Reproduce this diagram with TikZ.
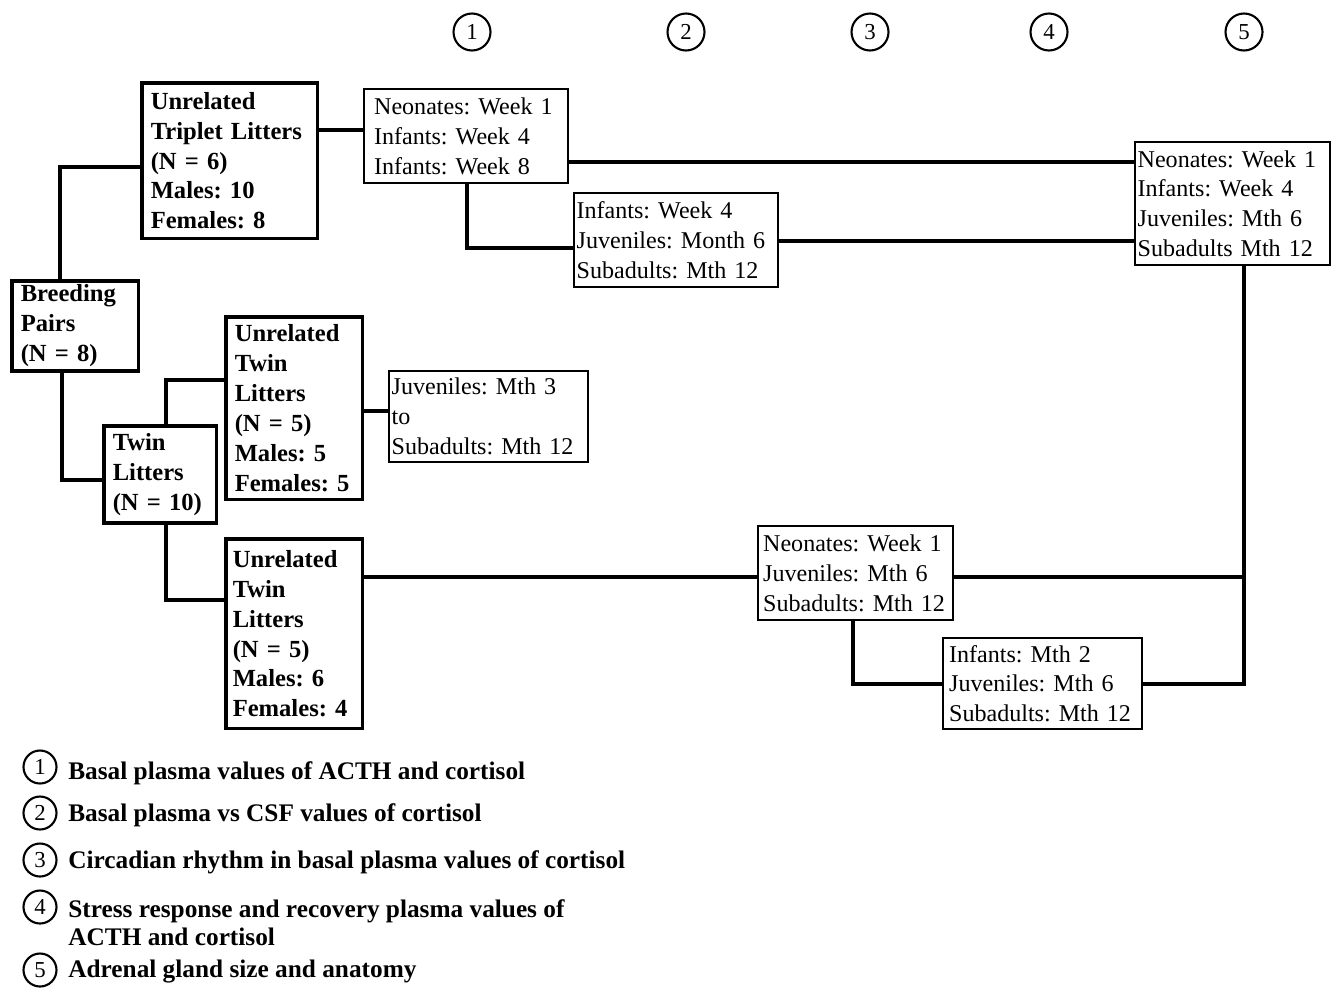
\documentclass[tikz,border=0pt]{standalone}
\usepackage{fontspec}
\setmainfont{Liberation Serif}
\usetikzlibrary{positioning}
\frenchspacing
\tikzstyle{conn} = [line width=2pt]
\tikzstyle{groupbox} = [draw, line width=2pt, anchor=north west, align=left, inner xsep=0.18cm, inner ysep=0pt, font=\fontsize{14}{17}\selectfont\bfseries]
\tikzstyle{agebox} = [draw, line width=1.3pt, anchor=north west, align=left, inner xsep=0.05cm, inner ysep=0pt, font=\fontsize{13.7}{17}\selectfont]
\tikzstyle{num} = [draw, circle, line width=1.2pt, minimum size=0.74cm, inner sep=0pt, font=\fontsize{13}{13}\selectfont]
\tikzstyle{legend} = [anchor=west, align=left, inner sep=0pt, font=\fontsize{14.4}{16}\selectfont\bfseries]

\begin{document}
\begin{tikzpicture}[x=0.02cm, y=-0.02cm]
    \useasboundingbox (0,0) rectangle (1331,988);

    % Measurement numbers
    \foreach \n/\x in {1/472, 2/686, 3/870, 4/1049, 5/1244} {
        \node[num] (top\n) at (\x,32) {\n};
    }

    % Animal groups
    \node[groupbox, text width=3.16cm, minimum height=3.12cm] (trip) at (140,81)
        {Unrelated\\Triplet Litters\\(N = 6)\\Males: 10\\Females: 8};
    \node[groupbox, text width=2.18cm, minimum height=1.8cm] (breed) at (10,279)
        {Breeding\\Pairs\\(N = 8)};
    \node[groupbox, text width=1.9cm, minimum height=1.94cm] (twin) at (102,424)
        {Twin\\Litters\\(N = 10)};
    \node[groupbox, text width=2.38cm, minimum height=3.66cm] (utwA) at (224,315)
        {Unrelated\\Twin\\Litters\\(N = 5)\\Males: 5\\Females: 5};
    \node[groupbox, text width=2.46cm, minimum height=3.8cm, inner xsep=0.14cm] (utwB) at (224,537)
        {Unrelated\\Twin\\Litters\\(N = 5)\\Males: 6\\Females: 4};

    % Ages
    \node[agebox, text width=3.88cm, minimum height=1.82cm] (juv) at (388,370)
        {Juveniles: Mth 3\\to\\Subadults: Mth 12};
    \node[agebox, text width=3.68cm, minimum height=1.88cm, inner xsep=0.2cm] (wkA) at (363,88)
        {Neonates: Week 1\\Infants: Week 4\\Infants: Week 8};
    \node[agebox, text width=3.98cm, minimum height=1.88cm] (wkB) at (573,192)
        {Infants: Week 4\\Juveniles: Month 6\\Subadults: Mth 12};
    \node[agebox, text width=3.8cm, minimum height=2.46cm] (wkC) at (1134,141)
        {Neonates: Week 1\\Infants: Week 4\\Juveniles: Mth 6\\Subadults Mth 12};
    \node[agebox, text width=3.7cm, minimum height=1.88cm, inner xsep=0.1cm] (mthD) at (757,525)
        {Neonates: Week 1\\Juveniles: Mth 6\\Subadults: Mth 12};
    \node[agebox, text width=3.74cm, minimum height=1.82cm, inner xsep=0.12cm] (mthE) at (942,637)
        {Infants: Mth 2\\Juveniles: Mth 6\\Subadults: Mth 12};
    \coordinate (jn) at (1244,577);

    % Connectors
    \draw[conn] (breed.north -| 60,0) |- (trip.west |- 0,167);
    \draw[conn] (breed.south -| 62,0) |- (twin.west |- 0,480);
    \draw[conn] (twin.north -| 166,0) |- (utwA.west |- 0,380);
    \draw[conn] (twin.south -| 166,0) |- (utwB.west |- 0,600);
    \draw[conn] (utwA.east |- 0,411) -- (juv.west |- 0,411);
    \draw[conn] (trip.east |- 0,130) -- (wkA.west |- 0,130);
    \draw[conn] (wkA.south -| 467,0) |- (wkB.west |- 0,248);
    \draw[conn] (wkA.east |- 0,162) -- (wkC.west |- 0,162);
    \draw[conn] (wkB.east |- 0,241) -- (wkC.west |- 0,241);
    \draw[conn] (utwB.east |- 0,577) -- (mthD.west |- 0,577);
    \draw[conn] (mthD.east |- jn) -- (jn);
    \draw[conn] (mthD.south -| 853,0) |- (mthE.west |- 0,684);
    \draw[conn] (mthE.east |- 0,684) -| (wkC.south -| jn);

    % Legend
    \foreach \n/\y in {1/767, 2/813, 3/860, 4/907, 5/970} {
        \node[num, minimum size=0.66cm] (key\n) at (40,\y) {\n};
    }
    \node[legend] (txt1) at (68,773) {Basal plasma values of ACTH and cortisol};
    \node[legend] (txt2) at (68,815) {Basal plasma vs CSF values of cortisol};
    \node[legend] (txt3) at (68,862) {Circadian rhythm in basal plasma values of cortisol};
    \node[legend] (txt4) at (68,923) {Stress response and recovery plasma values of\\ACTH and cortisol};
    \node[legend] (txt5) at (68,971) {Adrenal gland size and anatomy};
\end{tikzpicture}
\end{document}
